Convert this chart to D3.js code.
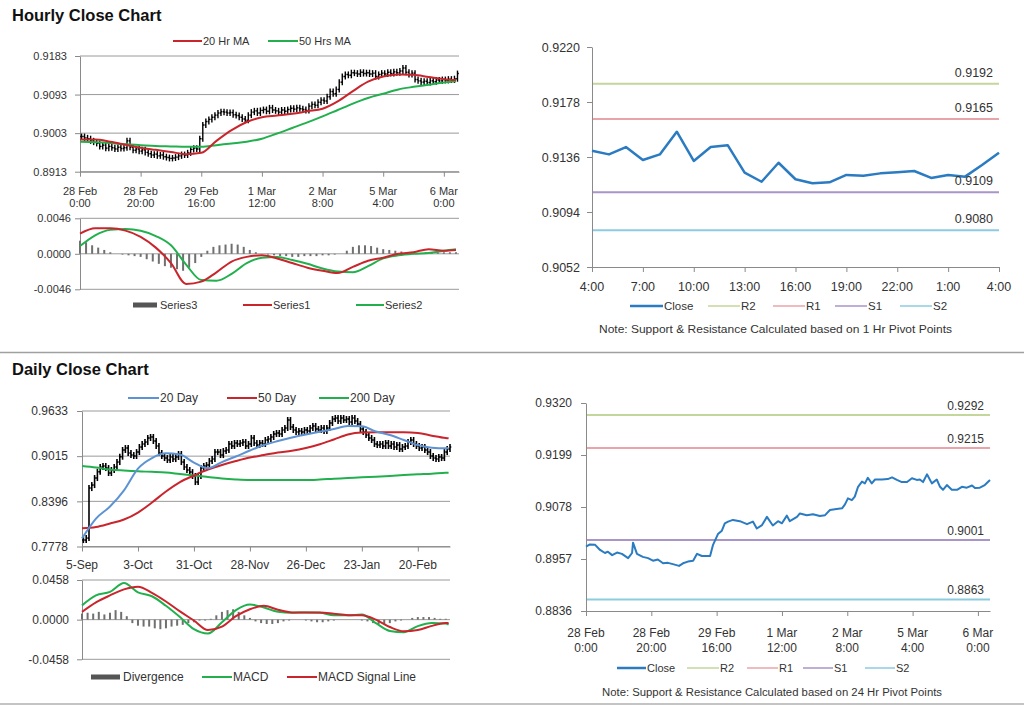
<!DOCTYPE html>
<html><head><meta charset="utf-8">
<script src="https://cdn.jsdelivr.net/npm/d3@7"></script>
<style>
body{margin:0;background:#fff;}
svg{display:block;}
</style></head><body>
<script>
// ================= DATA =================
// --- Hourly close chart (top-left) ---
const hourlyClose=[
0.8995,0.8992,0.8990,0.8985,0.8982,0.8979,0.8972,0.8975,0.8968,0.8972,
0.8969,0.8966,0.8970,0.8967,0.8969,0.8985,0.8970,0.8963,0.8966,0.8961,
0.8964,0.8958,0.8955,0.8952,0.8954,0.8950,0.8952,0.8948,0.8946,0.8944,
0.8945,0.8947,0.8950,0.8953,0.8952,0.8957,0.8965,0.8968,0.8966,0.8990,
0.9022,0.9030,0.9035,0.9040,0.9045,0.9050,0.9053,0.9052,0.9050,0.9051,
0.9046,0.9044,0.9040,0.9036,0.9033,0.9045,0.9052,0.9055,0.9050,0.9056,
0.9058,0.9054,0.9062,0.9057,0.9055,0.9052,0.9057,0.9054,0.9058,0.9061,
0.9059,0.9062,0.9060,0.9058,0.9056,0.9066,0.9070,0.9068,0.9075,0.9080,
0.9078,0.9088,0.9100,0.9095,0.9105,0.9122,0.9135,0.9140,0.9138,0.9144,
0.9143,0.9141,0.9145,0.9142,0.9144,0.9141,0.9143,0.9135,0.9140,0.9143,
0.9141,0.9145,0.9142,0.9146,0.9144,0.9148,0.9155,0.9145,0.9140,0.9143,
0.9128,0.9125,0.9122,0.9124,0.9121,0.9125,0.9123,0.9127,0.9125,0.9128,
0.9126,0.9129,0.9127,0.9130,0.9142];
const maHours=[0,5,10,15,20,25,30,35,40,45,50,55,60,65,70,75,80,85,90,95,100,105,110,115,120,124];
const ma20Hr=[0.8988,0.8988,0.8983,0.8976,0.8969,0.8964,0.8959,0.8954,0.8957,0.8985,0.9010,0.9029,0.9040,0.9044,0.9048,0.9054,0.9060,0.9077,0.9101,0.9123,0.9135,0.9140,0.9139,0.9134,0.9129,0.9127];
const ma50Hrs=[0.8983,0.8982,0.8980,0.8977,0.8975,0.8973,0.8972,0.8971,0.8971,0.8975,0.8979,0.8983,0.8990,0.9002,0.9015,0.9028,0.9042,0.9057,0.9072,0.9085,0.9095,0.9105,0.9111,0.9116,0.9121,0.9124];
const series1=[0.0026,0.0033,0.0033,0.0030,0.0022,0.0008,-0.0012,-0.0039,-0.0036,-0.0024,-0.0010,-0.0004,-0.0002,-0.0006,-0.0012,-0.0018,-0.0022,-0.0025,-0.0017,-0.0009,-0.0005,0.0000,0.0002,0.0006,0.0004,0.0005];
const series2=[0.0010,0.0024,0.0031,0.0032,0.0030,0.0023,0.0011,-0.0014,-0.0034,-0.0035,-0.0026,-0.0012,-0.0005,-0.0004,-0.0008,-0.0013,-0.0019,-0.0023,-0.0024,-0.0016,-0.0006,-0.0002,0.0000,0.0001,0.0004,0.0006];
const series3=[ // every 2 hours
0.0017,0.0015,0.0011,0.0008,0.0005,0.0002,0.0000,-0.0001,-0.0002,-0.0003,
-0.0004,-0.0007,-0.0010,-0.0013,-0.0016,-0.0018,-0.0020,-0.0022,-0.0018,-0.0012,
-0.0004,0.0004,0.0009,0.0011,0.0012,0.0013,0.0012,0.0009,0.0005,0.0002,
0.0000,-0.0001,-0.0002,-0.0003,-0.0003,-0.0004,-0.0004,-0.0003,-0.0003,-0.0003,
-0.0002,-0.0002,-0.0001,0.0000,0.0004,0.0009,0.0011,0.0011,0.0010,0.0008,
0.0006,0.0005,0.0004,0.0003,0.0002,0.0001,0.0001,0.0002,0.0002,0.0002,
0.0002,0.0002,0.0002];
const hourTickIdx=[0,20,40,60,80,100,120];
const hourTickDates=["28 Feb","28 Feb","29 Feb","1 Mar","2 Mar","5 Mar","6 Mar"];
const hourTickTimes=["0:00","20:00","16:00","12:00","8:00","4:00","0:00"];
const p1Ticks=[0.8913,0.9003,0.9093,0.9183];
const p2Ticks=[-0.0046,0,0.0046];

// --- Hourly pivot chart (top-right) ---
const pivotHourClose=[0.91408,0.91380,0.91436,0.91337,0.91380,0.91553,0.91330,0.91436,0.91450,0.91240,0.91171,0.91316,0.91190,0.91160,0.91167,0.91223,0.91217,0.91235,0.91243,0.91253,0.91200,0.91223,0.91210,0.91299,0.91393];
const pivotHourLabels=["4:00","7:00","10:00","13:00","16:00","19:00","22:00","1:00","4:00"];
const hourlyLevels=[0.9192,0.9165,0.9109,0.9080];
const levelNames=["R2","R1","S1","S2"];
const p3Ticks=[0.9052,0.9094,0.9136,0.9178,0.9220];

// --- Daily close chart (bottom-left) ---
const dailyClose=[
0.7866,0.7893,0.8578,0.8619,0.8715,0.8801,0.8866,0.8880,0.8852,0.8784,
0.8825,0.8866,0.8934,0.9007,0.9099,0.9126,0.9058,0.9030,0.9017,0.9071,
0.9140,0.9181,0.9208,0.9263,0.9277,0.9222,0.9154,0.9058,0.9017,0.8989,
0.8962,0.9003,0.8975,0.9003,0.9044,0.8934,0.8866,0.8825,0.8797,0.8743,
0.8660,0.8743,0.8852,0.8880,0.8893,0.8948,0.8975,0.9071,0.9071,0.9030,
0.9085,0.9099,0.9181,0.9154,0.9195,0.9181,0.9195,0.9208,0.9154,0.9181,
0.9263,0.9195,0.9167,0.9195,0.9181,0.9236,0.9249,0.9277,0.9318,0.9332,
0.9318,0.9373,0.9400,0.9510,0.9414,0.9373,0.9345,0.9359,0.9345,0.9373,
0.9359,0.9400,0.9428,0.9386,0.9373,0.9400,0.9359,0.9400,0.9469,0.9523,
0.9537,0.9496,0.9537,0.9510,0.9523,0.9482,0.9537,0.9496,0.9455,0.9386,
0.9345,0.9304,0.9263,0.9236,0.9181,0.9167,0.9181,0.9154,0.9195,0.9154,
0.9181,0.9140,0.9167,0.9113,0.9140,0.9154,0.9208,0.9236,0.9181,0.9154,
0.9126,0.9140,0.9099,0.9071,0.9017,0.8989,0.8975,0.9003,0.8989,0.9071,
0.9113,0.9140];
const maDays=[0,5,10,15,20,25,30,35,40,45,50,55,60,65,70,75,80,85,90,95,100,105,110,115,120,125,130,131];
const ma20Day=[0.7889,0.8160,0.8325,0.8547,0.8845,0.8989,0.9054,0.9037,0.8927,0.8848,0.8934,0.9010,0.9092,0.9167,0.9222,0.9270,0.9311,0.9349,0.9386,0.9428,0.9423,0.9352,0.9304,0.9236,0.9167,0.9130,0.9122,0.9126];
const ma50Day=[0.8027,0.8045,0.8093,0.8147,0.8243,0.8380,0.8531,0.8660,0.8750,0.8832,0.8894,0.8948,0.8996,0.9030,0.9065,0.9089,0.9126,0.9177,0.9243,0.9311,0.9338,0.9341,0.9341,0.9341,0.9332,0.9295,0.9263,0.9259];
const ma200Day=[0.8880,0.8859,0.8832,0.8818,0.8807,0.8800,0.8791,0.8770,0.8750,0.8729,0.8708,0.8695,0.8688,0.8688,0.8688,0.8688,0.8688,0.8695,0.8706,0.8715,0.8725,0.8733,0.8743,0.8756,0.8766,0.8774,0.8788,0.8788];
const macdLine=[0.0165,0.0280,0.0320,0.0423,0.0315,0.0270,0.0160,0.0030,-0.0110,-0.0160,-0.0030,0.0110,0.0175,0.0140,0.0090,0.0080,0.0084,0.0080,0.0050,0.0050,0.0060,-0.0040,-0.0130,-0.0145,-0.0075,-0.0040,-0.0045,-0.0057];
const signalLine=[0.0090,0.0200,0.0280,0.0350,0.0380,0.0310,0.0210,0.0095,-0.0010,-0.0120,-0.0080,0.0040,0.0120,0.0160,0.0115,0.0084,0.0084,0.0082,0.0068,0.0052,0.0050,0.0000,-0.0085,-0.0134,-0.0120,-0.0072,-0.0040,-0.0038];
const divergence=[ // every 2 days
0.007,0.008,0.007,0.009,0.006,0.008,0.011,0.009,0.004,-0.004,
-0.007,-0.008,-0.008,-0.010,-0.011,-0.010,-0.008,-0.007,-0.006,-0.004,
-0.003,-0.001,-0.001,0.001,0.005,0.009,0.011,0.012,0.009,0.005,
0.002,-0.002,-0.004,-0.005,-0.005,-0.004,-0.002,-0.001,0.000,0.000,
-0.001,-0.002,-0.003,-0.003,-0.002,-0.001,0.000,0.000,0.000,0.000,
-0.001,-0.002,-0.004,-0.005,-0.005,-0.004,-0.002,-0.001,0.000,0.002,
0.003,0.003,0.003,0.002,0.001,0.001];
const dayTickIdx=[0,20,40,60,80,100,120];
const dayTickLabels=["5-Sep","3-Oct","31-Oct","28-Nov","26-Dec","23-Jan","20-Feb"];
const p4Ticks=[0.7778,0.8396,0.9015,0.9633];
const p5Ticks=[-0.0458,0,0.0458];

// --- Daily pivot chart (bottom-right) ---
const pivotDayHours=[0,1.2,2.8,4.3,5.8,6.7,8.0,9.5,11.0,12.9,14.1,14.4,15.6,17.4,19.0,20.5,22.0,23.6,25.1,26.6,28.5,29.7,31.2,32.8,34.0,35.5,38.0,38.9,40.4,41.6,42.5,43.5,45.0,47.1,49.3,51.1,52.3,53.9,55.4,57.2,58.8,60.0,61.5,62.4,64.6,65.5,67.6,69.5,71.6,73.2,74.7,76.2,78.4,79.3,80.2,81.4,82.3,83.3,84.5,85.4,86.3,87.5,88.5,90.6,92.4,93.7,95.2,96.7,98.3,99.8,101.3,102.2,103.2,104.4,105.9,107.4,108.4,109.3,110.5,112.0,113.6,115.1,116.6,118.2,119.1,120.6,122.1,123.7];
const pivotDayClose=[
0.8986,0.8991,0.8990,0.8978,0.8971,0.8974,0.8966,0.8972,0.8969,0.8959,
0.8971,0.8995,0.8969,0.8962,0.8959,0.8953,0.8956,0.8947,0.8948,0.8945,
0.8941,0.8947,0.8951,0.8953,0.8969,0.8964,0.8964,0.8990,0.9015,0.9023,
0.9040,0.9044,0.9048,0.9045,0.9038,0.9044,0.9028,0.9036,0.9055,0.9035,
0.9045,0.9040,0.9058,0.9045,0.9055,0.9063,0.9059,0.9061,0.9057,0.9059,
0.9071,0.9073,0.9075,0.9084,0.9098,0.9094,0.9102,0.9125,0.9137,0.9133,
0.9146,0.9133,0.9142,0.9142,0.9143,0.9147,0.9141,0.9136,0.9136,0.9145,
0.9141,0.9142,0.9136,0.9154,0.9133,0.9142,0.9125,0.9118,0.9129,0.9118,
0.9118,0.9125,0.9123,0.9128,0.9122,0.9123,0.9129,0.9141];
const dailyLevels=[0.9292,0.9215,0.9001,0.8863];
const p6Ticks=[0.8836,0.8957,0.9078,0.9199,0.9320];

// ================= DRAWING =================
const FONT='"Liberation Sans", Arial, sans-serif';
const GRID="#9a9a9a", AXIS="#8a8a8a", TXT="#333333";
const RED="#c9252c", GREEN="#22b04e", BLUE20="#5d93d3", CLOSE="#2a7bc1", HIST="#707070";
const LEVELCOL=["#c3d69b","#e8a4a8","#a995c9","#8ccbe0"];

const svg=d3.select("body").append("svg").attr("width",1024).attr("height",706)
  .attr("font-family",FONT);

function yAxis(scale,x,ticks,pad,fs){
  const g=svg.append("g").attr("transform",`translate(${x},0)`)
    .call(d3.axisLeft(scale).tickValues(ticks).tickFormat(v=>v.toFixed(4)).tickSize(5).tickSizeOuter(0).tickPadding(pad));
  g.attr("font-family",FONT).attr("font-size",fs);
  g.select(".domain").attr("stroke",AXIS);
  g.selectAll(".tick line").attr("stroke",AXIS);
  g.selectAll(".tick text").attr("fill",TXT);
}
function xTicks(scale,y,ticks){
  const g=svg.append("g").attr("transform",`translate(0,${y})`)
    .call(d3.axisBottom(scale).tickValues(ticks).tickFormat("").tickSize(5).tickSizeOuter(0));
  g.select(".domain").attr("stroke",AXIS);
  g.selectAll(".tick line").attr("stroke",AXIS);
}
function grid(scale,x0,x1,ticks){
  svg.append("g").selectAll("line").data(ticks).join("line")
    .attr("x1",x0).attr("x2",x1).attr("y1",d=>scale(d)).attr("y2",d=>scale(d))
    .attr("stroke",GRID).attr("stroke-width",1);
}
function labels(scale,ticks,texts,y,fs){
  svg.append("g").attr("font-size",fs).attr("fill",TXT).attr("text-anchor","middle")
    .selectAll("text").data(ticks).join("text")
    .attr("x",d=>scale(d)).attr("y",y).text((d,i)=>texts[i]);
}
function ohlc(xs,ys,closes,ext,sw,tk){
  const g=svg.append("g").attr("stroke","#000").attr("stroke-width",sw);
  closes.forEach((c,i)=>{
    const o=i?closes[i-1]:c, x=xs(i+0.5), yo=ys(o), yc=ys(c);
    g.append("line").attr("x1",x).attr("x2",x).attr("y1",Math.min(yo,yc)-ext).attr("y2",Math.max(yo,yc)+ext);
    g.append("line").attr("x1",x-tk).attr("x2",x).attr("y1",yo).attr("y2",yo);
    g.append("line").attr("x1",x).attr("x2",x+tk).attr("y1",yc).attr("y2",yc);
  });
}
function path(xs,ys,xv,yv,color,w,curve){
  const line=d3.line().x((d,i)=>xs(xv[i])).y(d=>ys(d)).curve(curve||d3.curveLinear);
  svg.append("path").datum(yv).attr("d",line).attr("fill","none")
    .attr("stroke",color).attr("stroke-width",w).attr("stroke-linejoin","round");
}
function bars(xs,ys,xv,yv,w){
  svg.append("g").selectAll("rect").data(yv).join("rect")
    .attr("x",(d,i)=>xs(xv[i])-w/2).attr("width",w)
    .attr("y",d=>Math.min(ys(d),ys(0))).attr("height",d=>Math.abs(ys(d)-ys(0)))
    .attr("fill",HIST);
}
function legLine(x1,x2,y,color,w,label,fs){
  svg.append("line").attr("x1",x1).attr("x2",x2).attr("y1",y).attr("y2",y).attr("stroke",color).attr("stroke-width",w);
  svg.append("text").attr("x",x2+1).attr("y",y).attr("dy","0.35em").attr("font-size",fs).attr("fill",TXT).text(label);
}
function legBar(x1,x2,y,label,fs){
  svg.append("rect").attr("x",x1).attr("y",y-2.5).attr("width",x2-x1).attr("height",5).attr("fill","#555");
  svg.append("text").attr("x",x2+3).attr("y",y).attr("dy","0.35em").attr("font-size",fs).attr("fill",TXT).text(label);
}

// Titles & separators
svg.append("text").attr("x",12).attr("y",21).attr("font-size",16.5).attr("font-weight","bold").attr("fill","#111").text("Hourly Close Chart");
svg.append("text").attr("x",12).attr("y",375).attr("font-size",16.5).attr("font-weight","bold").attr("fill","#111").text("Daily Close Chart");
svg.append("line").attr("x1",0).attr("x2",1024).attr("y1",352.5).attr("y2",352.5).attr("stroke","#a0a0a0").attr("stroke-width",1.5);
svg.append("line").attr("x1",0).attr("x2",1024).attr("y1",704).attr("y2",704).attr("stroke","#b0b0b0").attr("stroke-width",1.5);

// ---- Panel 1: hourly price ----
const x1s=d3.scaleLinear().domain([0,125]).range([80,459]);
const y1s=d3.scaleLinear().domain([0.8913,0.9183]).range([171.7,56]);
grid(y1s,80,459,p1Ticks);
yAxis(y1s,80,p1Ticks,8,11);
xTicks(x1s,171.7,hourTickIdx);
labels(x1s,hourTickIdx,hourTickDates,194.5,11);
labels(x1s,hourTickIdx,hourTickTimes,206.5,11);
ohlc(x1s,y1s,hourlyClose,3,1.4,1.3);
path(x1s,y1s,maHours,ma50Hrs,GREEN,2,d3.curveMonotoneX);
path(x1s,y1s,maHours,ma20Hr,RED,2,d3.curveMonotoneX);
legLine(173,202,41,RED,2,"20 Hr MA",11);
legLine(268,298,41,GREEN,2,"50 Hrs MA",11);

// ---- Panel 2: hourly MACD ----
const y2s=d3.scaleLinear().domain([-0.0046,0.0046]).range([289.3,218.3]);
grid(y2s,80,459,p2Ticks);
yAxis(y2s,80,p2Ticks,4,11);
bars(x1s,y2s,series3.map((d,i)=>i*2),series3,2);
path(x1s,y2s,maHours,series2,GREEN,2,d3.curveMonotoneX);
path(x1s,y2s,maHours,series1,RED,2,d3.curveMonotoneX);
legBar(133,157,305,"Series3",11);
legLine(243,272,305,RED,2,"Series1",11);
legLine(356,384,305,GREEN,2,"Series2",11);

// ---- Panel 3: hourly pivot ----
const x3s=d3.scaleLinear().domain([0,24]).range([592,999]);
const y3s=d3.scaleLinear().domain([0.9052,0.9220]).range([267,47]);
yAxis(y3s,592,p3Ticks,7,12.5);
xTicks(x3s,267,d3.range(0,25,3));
labels(x3s,d3.range(0,25,3),pivotHourLabels,291,12.5);
hourlyLevels.forEach((v,i)=>{
  svg.append("line").attr("x1",593).attr("x2",999).attr("y1",y3s(v)).attr("y2",y3s(v)).attr("stroke",LEVELCOL[i]).attr("stroke-width",2);
});
path(x3s,y3s,d3.range(25),pivotHourClose,CLOSE,2.5);
hourlyLevels.forEach((v,i)=>{
  svg.append("text").attr("x",993).attr("y",y3s(v)-7).attr("text-anchor","end").attr("font-size",12.5).attr("fill",TXT).text(v.toFixed(4));
});
legLine(630,663,306,CLOSE,2.5,"Close",11.5);
[[708,740],[773,805],[835,867],[900,932]].forEach((p,i)=>legLine(p[0],p[1],306,LEVELCOL[i],1.5,levelNames[i],11.5));
svg.append("text").attr("x",599).attr("y",333).attr("font-size",10.5).attr("fill",TXT)
  .attr("textLength",353).attr("lengthAdjust","spacingAndGlyphs")
  .text("Note: Support & Resistance Calculated based on 1 Hr Pivot Points");

// ---- Panel 4: daily price ----
const x4s=d3.scaleLinear().domain([0,131.5]).range([82,450]);
const y4s=d3.scaleLinear().domain([0.7778,0.9633]).range([546.5,411]);
grid(y4s,82,450,p4Ticks);
yAxis(y4s,82,p4Ticks,9,12);
xTicks(x4s,546.5,dayTickIdx);
labels(x4s,dayTickIdx,dayTickLabels,569,12);
ohlc(x4s,y4s,dailyClose,3,1.6,1.3);
path(x4s,y4s,maDays,ma200Day,GREEN,2,d3.curveMonotoneX);
path(x4s,y4s,maDays,ma50Day,RED,2,d3.curveMonotoneX);
path(x4s,y4s,maDays,ma20Day,BLUE20,2,d3.curveMonotoneX);
legLine(128,159,398,BLUE20,2,"20 Day",12);
legLine(227,257,398,RED,2,"50 Day",12);
legLine(319,349,398,GREEN,2,"200 Day",12);

// ---- Panel 5: daily MACD ----
const y5s=d3.scaleLinear().domain([-0.0458,0.0458]).range([659.3,580]);
grid(y5s,82,450,p5Ticks);
yAxis(y5s,82,p5Ticks,8,12);
bars(x4s,y5s,divergence.map((d,i)=>i*2),divergence,2);
path(x4s,y5s,maDays,macdLine,GREEN,2,d3.curveMonotoneX);
path(x4s,y5s,maDays,signalLine,RED,2,d3.curveMonotoneX);
legBar(91,120,677,"Divergence",12);
legLine(202,232,677,GREEN,2,"MACD",12);
legLine(287,317,677,RED,2,"MACD Signal Line",12);

// ---- Panel 6: daily pivot ----
const x6s=d3.scaleLinear().domain([0,123.7]).range([586,990]);
const y6s=d3.scaleLinear().domain([0.8836,0.9320]).range([611,403]);
yAxis(y6s,586,p6Ticks,9,12);
xTicks(x6s,611,hourTickIdx);
labels(x6s,hourTickIdx,hourTickDates,637,12);
labels(x6s,hourTickIdx,hourTickTimes,652,12);
dailyLevels.forEach((v,i)=>{
  svg.append("line").attr("x1",587).attr("x2",990).attr("y1",y6s(v)).attr("y2",y6s(v)).attr("stroke",LEVELCOL[i]).attr("stroke-width",2);
});
path(x6s,y6s,pivotDayHours,pivotDayClose,CLOSE,2);
dailyLevels.forEach((v,i)=>{
  svg.append("text").attr("x",984).attr("y",y6s(v)-5).attr("text-anchor","end").attr("font-size",12).attr("fill",TXT).text(v.toFixed(4));
});
legLine(617,646,668,CLOSE,2.5,"Close",11);
[[687,719],[747,778],[803,833],[865,895]].forEach((p,i)=>legLine(p[0],p[1],668,LEVELCOL[i],1.5,levelNames[i],11));
svg.append("text").attr("x",602).attr("y",696).attr("font-size",10).attr("fill",TXT)
  .attr("textLength",340).attr("lengthAdjust","spacingAndGlyphs")
  .text("Note: Support & Resistance Calculated based on 24 Hr Pivot Points");
</script>
</body></html>
